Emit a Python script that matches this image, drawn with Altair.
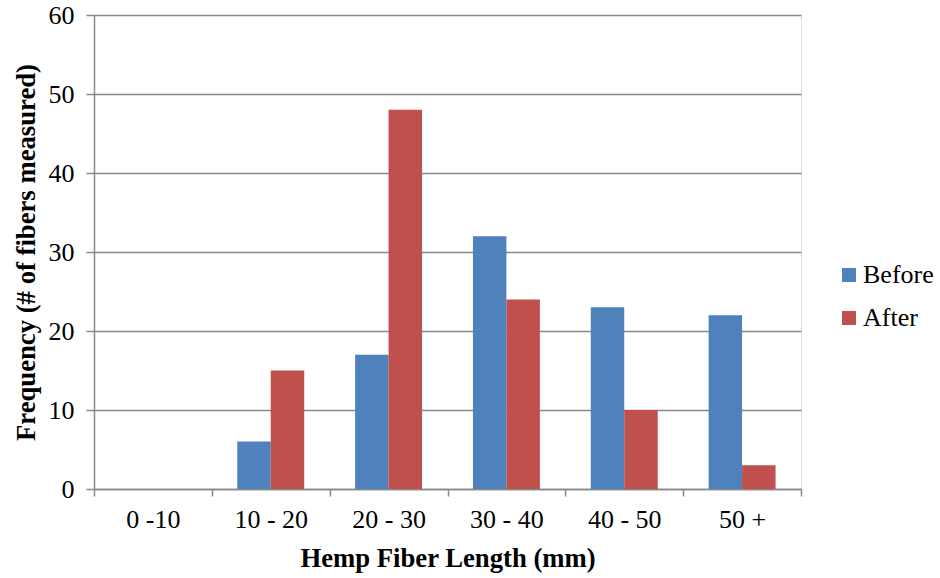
import altair as alt
import pandas as pd

categories = ["0 -10", "10 - 20", "20 - 30", "30 - 40", "40 - 50", "50 +"]
before = [0, 6, 17, 32, 23, 22]
after = [0, 15, 48, 24, 10, 3]
series = ["Before", "After"]
colors = ["#4F81BD", "#C0504D"]
y_ticks = [0, 10, 20, 30, 40, 50, 60]

rows = []
for c, b, a in zip(categories, before, after):
    rows.append({"cat": c, "series": "Before", "value": b})
    rows.append({"cat": c, "series": "After", "value": a})
df = pd.DataFrame(rows)

FONT = "Liberation Serif"
GRAY = "#898989"

chart = alt.Chart(df).mark_bar().encode(
    x=alt.X("cat:N", sort=categories,
            scale=alt.Scale(paddingInner=0, paddingOuter=0),
            axis=alt.Axis(title="Hemp Fiber Length (mm)", labelAngle=0,
                          tickBand="extent", tickSize=7, tickColor=GRAY, tickWidth=1.5,
                          domainColor=GRAY, domainWidth=1.5,
                          labelFont=FONT, labelFontSize=26, labelColor="black", labelPadding=10,
                          titleFont=FONT, titleFontSize=26.7, titleFontWeight="bold",
                          titleColor="black", titlePadding=13)),
    xOffset=alt.XOffset("series:N", sort=series,
                        scale=alt.Scale(paddingInner=0, paddingOuter=0.76)),
    y=alt.Y("value:Q", scale=alt.Scale(domain=[0, 60], nice=False),
            axis=alt.Axis(title="Frequency (# of fibers measured)", values=y_ticks,
                          grid=True, gridColor=GRAY, gridWidth=1.5,
                          tickSize=8, tickColor=GRAY, tickWidth=1.5,
                          domainColor=GRAY, domainWidth=1.5,
                          labelFont=FONT, labelFontSize=26, labelColor="black", labelPadding=12,
                          titleFont=FONT, titleFontSize=26.7, titleFontWeight="bold",
                          titleColor="black", titlePadding=8)),
    color=alt.Color("series:N", sort=series,
                    scale=alt.Scale(domain=series, range=colors),
                    legend=alt.Legend(title=None, orient="none", legendX=742, legendY=247,
                                      symbolType="square", symbolSize=196,
                                      symbolStrokeWidth=0, labelFont=FONT,
                                      labelFontSize=26, labelColor="black",
                                      labelOffset=1, rowPadding=17)),
).properties(
    width=707, height=474,
    autosize=alt.AutoSizeParams(type="none"),
    padding={"left": 94, "top": 15, "right": 139, "bottom": 89},
).configure_view(stroke=None).configure(background="white")

chart.save("out.html", embed_options={"renderer": "svg", "actions": False})
